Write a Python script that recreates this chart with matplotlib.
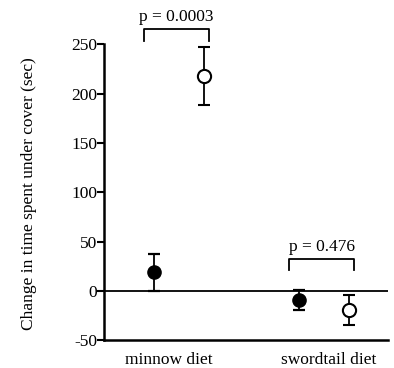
import numpy as np
import matplotlib.pyplot as plt

plt.rcParams['font.family'] = ['Liberation Serif', 'DejaVu Serif']
plt.rcParams['axes.unicode_minus'] = False

# data
diets = ['minnow diet', 'swordtail diet']
filled_mean = [19, -9]
filled_err = [19, 10.5]
open_mean = [218, -19]
open_err = [29.5, 15]
p_labels = ['p = 0.0003', 'p = 0.476']
bracket_y = [266, 33]
bracket_leg = [253, 21]

x_filled = np.array([1.0, 3.9])
x_open = x_filled + 1.0
x_lab = [1.3, 4.5]

fig = plt.figure(figsize=(3.94, 3.68), dpi=100)
ax = fig.add_axes([0.264, 0.075, 0.721, 0.925])

ax.axhline(0, color='black', lw=1.3, zorder=1)

ax.errorbar(x_filled, filled_mean, yerr=filled_err, fmt='o', color='black',
            ms=9.5, mfc='black', mec='black', ecolor='black', elinewidth=1.3,
            capsize=4.5, capthick=1.6, zorder=3)
ax.errorbar(x_open, open_mean, yerr=open_err, fmt='o', color='black',
            ms=9.5, mfc='white', mec='black', mew=1.5, ecolor='black',
            elinewidth=1.3, capsize=4.5, capthick=1.6, zorder=3)

for i in range(2):
    x0 = x_filled[i] - 0.2
    x1 = x_open[i] + 0.1
    ax.plot([x0, x0, x1, x1], [bracket_leg[i], bracket_y[i], bracket_y[i], bracket_leg[i]],
            color='black', lw=1.3, clip_on=False)
    ax.text((x0 + x1) / 2, bracket_y[i] + 4, p_labels[i], ha='center', va='bottom',
            fontsize=12.5)

ax.set_xlim(0, 5.68)
ax.set_ylim(-50, 295)
ax.set_yticks([-50, 0, 50, 100, 150, 200, 250])
ax.set_xticks(x_lab)
ax.set_xticklabels(diets, fontsize=12.5)
ax.tick_params(axis='x', length=0, pad=8)
ax.tick_params(axis='y', direction='out', length=5, width=1.5, labelsize=12.5, pad=0)
ax.spines['top'].set_visible(False)
ax.spines['right'].set_visible(False)
ax.spines['left'].set_bounds(-50, 250)
ax.spines['left'].set_linewidth(1.8)
ax.spines['bottom'].set_linewidth(1.8)
ax.set_ylabel('Change in time spent under cover (sec)', fontsize=12.5)
ax.yaxis.set_label_coords(-0.235, 0.43)

fig.savefig('out.png', dpi=100)
